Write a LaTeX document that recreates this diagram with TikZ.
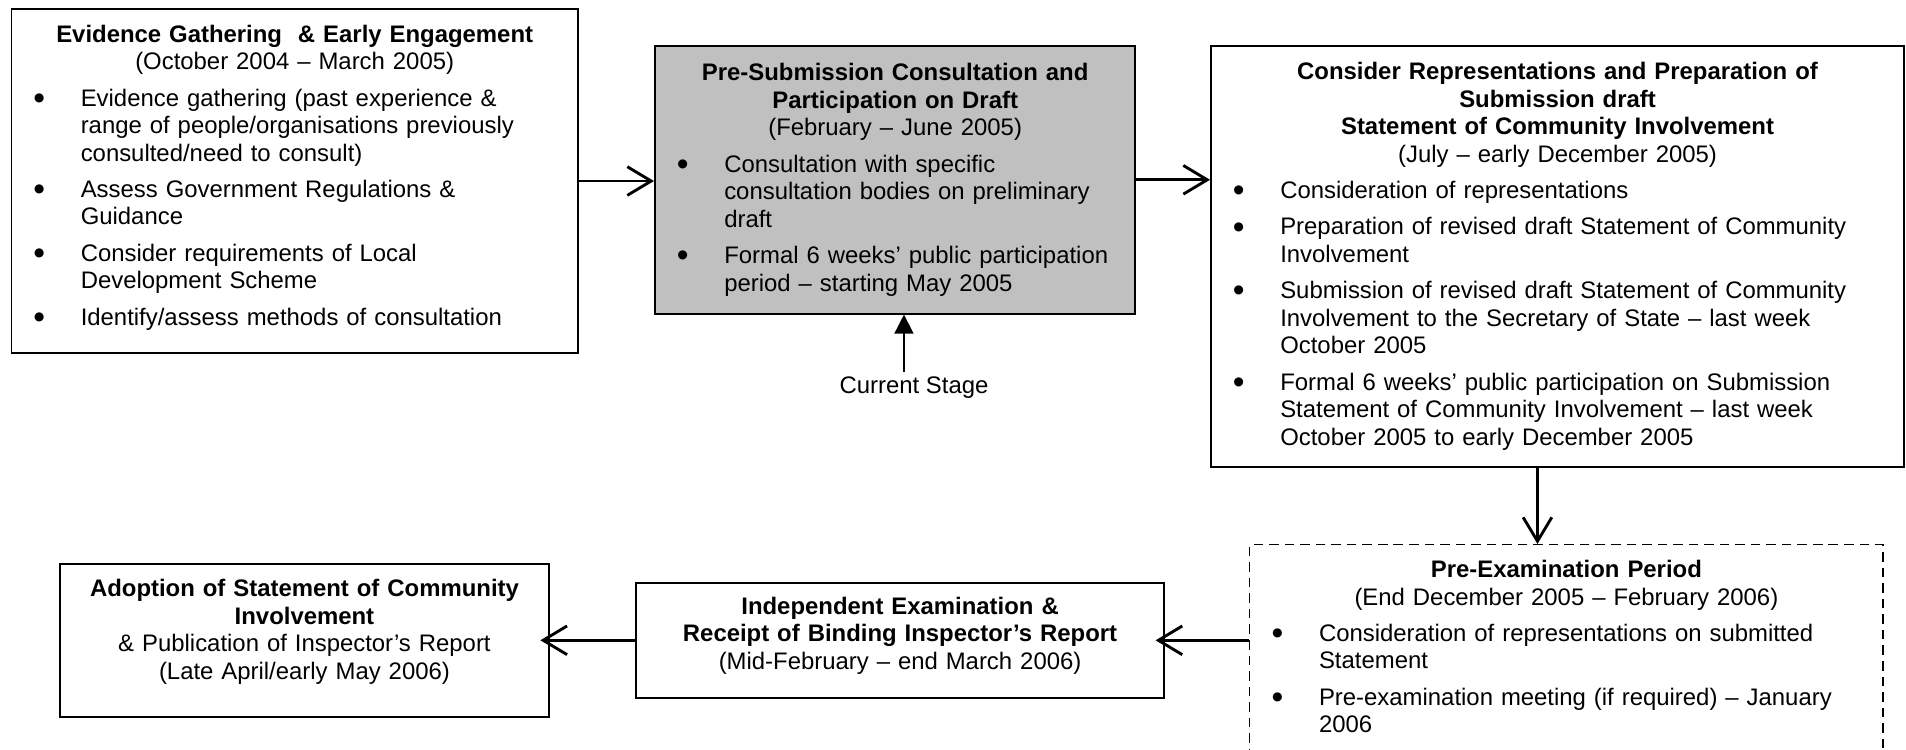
\documentclass[tikz,border=0pt]{standalone}
\usepackage{fontspec}
\usepackage{graphicx}
\setmainfont{Liberation Sans}
\usetikzlibrary{arrows.meta, calc, positioning}
\definecolor{stagegray}{HTML}{C0C0C0}
\newcommand{\sitem}[1]{\par\vspace{3.7pt}{\hangindent=21pt\hangafter=1\noindent
  \makebox[21pt][l]{\hspace{1.2pt}\raisebox{-1.3pt}{\scalebox{1.4}{\textbullet}}}\let\\\newline#1\par}}
\newcommand{\boxtail}[1]{\rule[-#1]{0pt}{0pt}}
\tikzset{
  stagebox/.style  = {draw=black, line width=0.8pt, fill=white, anchor=north west,
                      inner xsep=8pt, inner ysep=3pt, align=left,
                      font=\fontsize{10}{11.5}\selectfont},
  stagenow/.style  = {stagebox, fill=stagegray},
  stagedash/.style = {stagebox, line width=0.6pt, dash pattern=on 4pt off 2.5pt},
  flowarrow/.style = {line width=1.2pt,
                      -{Straight Barb[length=10pt, width=12pt, line width=1.2pt]}},
  notearrow/.style = {line width=0.6pt, -{Triangle[length=8pt, width=8pt]}},
  notelabel/.style = {font=\fontsize{10}{11.5}\selectfont, inner sep=2pt},
}

\begin{document}
\begin{tikzpicture}[x=0.4184pt, y=-0.4184pt]
  \useasboundingbox (0,0) rectangle (1906,750);
  \clip (0,0) rectangle (1906,750);
  % top row
  \node[stagebox, text width=221pt, minimum width=237pt, minimum height=144pt] (ev)
    at (10.5,8) {{\centering\textbf{Evidence Gathering~ \& Early Engagement}\\
      (October 2004 – March 2005)\par}
    \sitem{Evidence gathering (past experience \&\\range of people/organisations previously\\consulted/need to consult)}
    \sitem{Assess Government Regulations \&\\Guidance}
    \sitem{Consider requirements of Local\\Development Scheme}
    \sitem{Identify/assess methods of consultation\boxtail{5pt}}};
  \node[stagenow, text width=185pt, minimum width=201pt, minimum height=112pt] (sub)
    at (654,45) {{\centering\textbf{Pre-Submission Consultation and\\Participation on Draft}\\
      (February – June 2005)\par}
    \sitem{Consultation with specific\\consultation bodies on preliminary\\draft}
    \sitem{Formal 6 weeks’ public participation\\period – starting May 2005}};
  \node[stagebox, text width=274pt, minimum width=290pt, minimum height=176pt] (rep)
    at (1210,45) {{\centering\textbf{Consider Representations and Preparation of\\Submission draft\\
      Statement of Community Involvement}\\(July – early December 2005)\par}
    \sitem{Consideration of representations}
    \sitem{Preparation of revised draft Statement of Community\\Involvement}
    \sitem{Submission of revised draft Statement of Community\\Involvement to the Secretary of State – last week\\October 2005}
    \sitem{Formal 6 weeks’ public participation on Submission\\Statement of Community Involvement – last week\\October 2005 to early December 2005}};
  \node[notelabel] (cur) at (914,388) {Current Stage};
  % bottom row
  \node[stagedash, text width=249pt, minimum width=265pt, inner ysep=6.5pt] (pre)
    at (1249,544) {{\centering\textbf{Pre-Examination Period}\\
      (End December 2005 – February 2006)\par}
    \sitem{Consideration of representations on submitted\\Statement}
    \sitem{Pre-examination meeting (if required) – January\\2006\boxtail{60pt}}};
  \node[stagebox, text width=205pt, minimum width=221pt, minimum height=48pt, align=center] (exam)
    at (635,582) {\textbf{Independent Examination \&\\Receipt of Binding Inspector’s Report}\\
      (Mid-February – end March 2006)\boxtail{6pt}};
  \node[stagebox, text width=188.6pt, minimum width=204.6pt, minimum height=64pt, align=center] (adopt)
    at (59,563) {\textbf{Adoption of Statement of Community\\Involvement}\\
      \& Publication of Inspector’s Report\\(Late April/early May 2006)\boxtail{9.3pt}};
  % connectors
  \draw[flowarrow] (ev.east) -- (ev.east -| sub.west);
  \draw[flowarrow] (sub.east) -- (sub.east -| rep.west);
  \draw[flowarrow] ([xshift=-8.4pt]rep.south) -- ([xshift=-8.4pt]rep.south |- pre.north);
  \draw[flowarrow, shorten >=-4pt] (pre.west |- exam.east) -- (exam.east);
  \draw[flowarrow, shorten >=-4pt] (exam.west) -- (exam.west -| adopt.east);
  \draw[notearrow] ([xshift=-4.2pt]cur.north) -- ([xshift=-4.2pt]cur.north |- sub.south);
\end{tikzpicture}
\end{document}
